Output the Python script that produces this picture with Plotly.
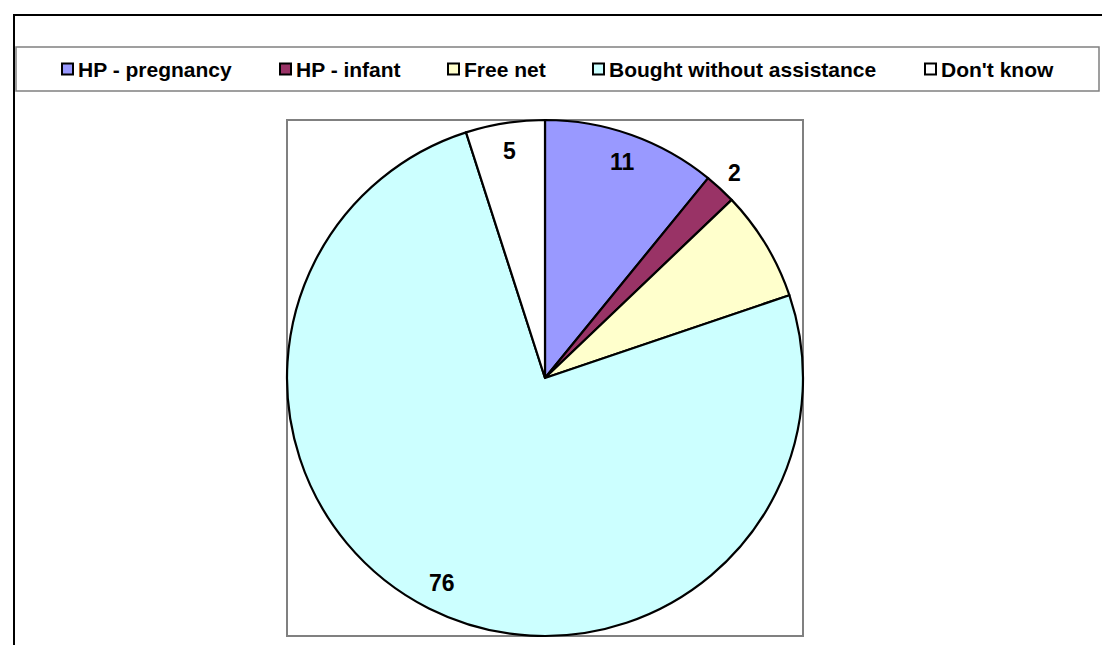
import math
import plotly.graph_objects as go

# Source of bed net, share of respondents (%)
categories = ["HP - pregnancy", "HP - infant", "Free net", "Bought without assistance", "Don't know"]
values = [11, 2, 7, 76, 5]
show_value = [True, True, False, True, True]
colors = ["#9999FF", "#993366", "#FFFFCC", "#CCFFFF", "#FFFFFF"]

W, H = 1102, 645
FONT = "Liberation Sans, Arial, sans-serif"


def px(x):
    return x / W


def py(y):
    return 1 - y / H


# plot-area box (pixels) that holds the pie
PA = dict(x0=287, y0=120, x1=803, y1=636)

fig = go.Figure()
fig.add_trace(go.Pie(
    labels=categories,
    values=values,
    sort=False,
    direction="clockwise",
    rotation=0,
    marker=dict(colors=colors, line=dict(color="#000000", width=2.2)),
    textinfo="none",
    showlegend=False,
    domain=dict(x=[px(PA["x0"]), px(PA["x1"])], y=[py(PA["y1"]), py(PA["y0"])]),
))

shapes = []
annotations = []

# outer chart frame (runs past the right/bottom edges)
shapes.append(dict(type="rect", xref="paper", yref="paper",
                   x0=px(14), x1=px(W + 20), y0=py(15), y1=py(H + 20),
                   line=dict(color="#000000", width=2), fillcolor="rgba(0,0,0,0)", layer="below"))
# legend box
shapes.append(dict(type="rect", xref="paper", yref="paper",
                   x0=px(16), x1=px(1099), y0=py(47), y1=py(91),
                   line=dict(color="#808080", width=1.5), fillcolor="#FFFFFF", layer="below"))
# plot-area box
shapes.append(dict(type="rect", xref="paper", yref="paper",
                   x0=px(PA["x0"]), x1=px(PA["x1"]), y0=py(PA["y1"]), y1=py(PA["y0"]),
                   line=dict(color="#808080", width=2), fillcolor="#FFFFFF", layer="below"))

# legend entries: square swatch followed by bold label
legend_x = [62, 280, 448, 593, 925]
legend_y = 69
for name, col, lx in zip(categories, colors, legend_x):
    shapes.append(dict(type="rect", xref="paper", yref="paper",
                       x0=px(lx), x1=px(lx + 11), y0=py(legend_y + 5.5), y1=py(legend_y - 5.5),
                       line=dict(color="#000000", width=2), fillcolor=col))
    annotations.append(dict(xref="paper", yref="paper", x=px(lx + 14), y=py(legend_y),
                            xanchor="left", yanchor="middle", showarrow=False,
                            text=f"<b>{name}</b>", font=dict(family=FONT, size=21, color="#000000")))

# value labels placed along each slice's mid-angle
cx = (PA["x0"] + PA["x1"]) / 2
cy = (PA["y0"] + PA["y1"]) / 2
r = (PA["x1"] - PA["x0"]) / 2
total = sum(values)
cum = 0
for v, show in zip(values, show_value):
    mid = (cum + v / 2) / total * 2 * math.pi
    cum += v
    if not show:
        continue
    k = 1.08 if v / total < 0.03 else 0.89
    lx = cx + k * r * math.sin(mid)
    ly = cy - k * r * math.cos(mid)
    annotations.append(dict(xref="paper", yref="paper", x=px(lx), y=py(ly),
                            xanchor="center", yanchor="middle", showarrow=False,
                            text=f"<b>{v}</b>", font=dict(family=FONT, size=23, color="#000000")))

fig.update_layout(
    width=W, height=H,
    margin=dict(l=0, r=0, t=0, b=0),
    paper_bgcolor="#FFFFFF",
    plot_bgcolor="#FFFFFF",
    shapes=shapes,
    annotations=annotations,
)

fig.write_html("out.html")
